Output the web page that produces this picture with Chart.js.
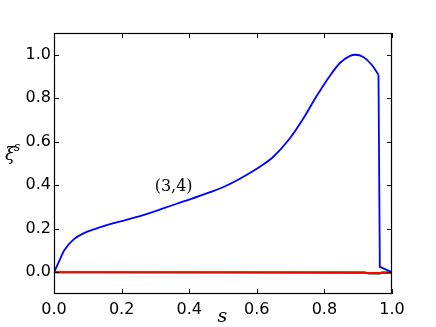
<!DOCTYPE html>
<html>
<head>
<meta charset="utf-8">
<script src="https://cdn.jsdelivr.net/npm/chart.js@4/dist/chart.umd.min.js"></script>
<style>
html,body{margin:0;padding:0;background:#fff;}
canvas{display:block;}
</style>
</head>
<body>
<canvas id="c" width="436" height="327"></canvas>
<script>
// Data
const blueS  = [0, 0.015, 0.03, 0.059, 0.089, 0.118, 0.166, 0.197, 0.264, 0.296, 0.363, 0.402, 0.462, 0.503, 0.550, 0.609, 0.649, 0.698, 0.738, 0.777, 0.817, 0.846, 0.876, 0.891, 0.915, 0.940, 0.960];
const blueXi = [0, 0.05, 0.10, 0.152, 0.18, 0.197, 0.221, 0.234, 0.263, 0.279, 0.315, 0.335, 0.368, 0.393, 0.43, 0.485, 0.531, 0.616, 0.708, 0.81, 0.905, 0.962, 0.995, 1.0, 0.99, 0.954, 0.908];
const blueDropS  = [0.960, 0.964, 1.0];
const blueDropXi = [0.908, 0.025, 0.0];
const greenS  = [0, 0.92, 0.93, 0.963, 0.97, 1.0];
const greenXi = [0, 0, -0.006, -0.007, 0, 0];
const redS  = [0, 0.5, 1.0];
const redXi = [0, -0.001, -0.003];
const xTicks = [0, 0.2, 0.4, 0.6, 0.8, 1.0];
const yTicks = [0, 0.2, 0.4, 0.6, 0.8, 1.0];
const annotationText = "(3,4)";
const xLabel = "s";
const yLabelMain = "ξ";
const yLabelSup = "s";

const toPts = (xs, ys) => xs.map((x, i) => ({x: x, y: ys[i]}));

const framePlugin = {
  id: 'frame',
  afterDatasetsDraw(chart) {
    const {ctx, chartArea: a, scales} = chart;
    ctx.save();
    ctx.fillStyle = '#000';
    ctx.font = '16px "DejaVu Serif", serif';
    ctx.textAlign = 'center';
    ctx.textBaseline = 'middle';
    ctx.fillText(annotationText, scales.x.getPixelForValue(0.354), scales.y.getPixelForValue(0.394));
    ctx.strokeStyle = '#000';
    ctx.lineWidth = 1.2;
    ctx.strokeRect(a.left + 0.5, a.top + 0.5, a.right - a.left - 1, a.bottom - a.top - 1);
    const L = 5;
    ctx.lineWidth = 1;
    ctx.beginPath();
    xTicks.forEach(v => {
      const px = Math.round(scales.x.getPixelForValue(v)) + 0.5;
      ctx.moveTo(px, a.bottom); ctx.lineTo(px, a.bottom - L);
      ctx.moveTo(px, a.top); ctx.lineTo(px, a.top + L);
    });
    yTicks.forEach(v => {
      const py = Math.round(scales.y.getPixelForValue(v)) + 0.5;
      ctx.moveTo(a.left, py); ctx.lineTo(a.left + L, py);
      ctx.moveTo(a.right, py); ctx.lineTo(a.right - L, py);
    });
    ctx.stroke();
    ctx.font = 'italic 19px "DejaVu Serif", serif';
    ctx.textAlign = 'center';
    ctx.textBaseline = 'alphabetic';
    ctx.fillText(xLabel, (a.left + a.right) / 2 - 0.5, 322);
    ctx.font = 'italic 18px "DejaVu Serif", serif';
    ctx.textAlign = 'left';
    ctx.fillText(yLabelMain, 5, 160);
    ctx.font = 'italic 12px "DejaVu Serif", serif';
    ctx.fillText(yLabelSup, 14, 151);
    ctx.restore();
  }
};

new Chart(document.getElementById('c'), {
  type: 'line',
  data: {
    datasets: [
      {data: toPts(blueS, blueXi), order: 1, borderColor: '#0000ff', borderWidth: 1.8, pointRadius: 0, cubicInterpolationMode: 'monotone', fill: false},
      {data: toPts(blueDropS, blueDropXi), order: 1, borderColor: '#0000ff', borderWidth: 1.8, pointRadius: 0, tension: 0, fill: false},
      {data: toPts(greenS, greenXi), order: 2, borderColor: '#008000', borderWidth: 1.8, pointRadius: 0, tension: 0, fill: false},
      {data: toPts(redS, redXi), order: 0, borderColor: '#ff0000', borderWidth: 2, pointRadius: 0, tension: 0, fill: false}
    ]
  },
  options: {
    responsive: false,
    animation: false,
    devicePixelRatio: 1,
    layout: {padding: {left: 0, top: 33, right: 44, bottom: 0}},
    plugins: {legend: {display: false}, tooltip: {enabled: false}},
    scales: {
      x: {
        type: 'linear', min: 0, max: 1,
        afterBuildTicks: s => { s.ticks = xTicks.map(v => ({value: v})); },
        afterFit: s => { s.height = 33; },
        grid: {display: false, drawTicks: false},
        border: {display: false},
        ticks: {color: '#000', font: {family: '"DejaVu Sans"', size: 16}, padding: 6, maxRotation: 0, callback: v => Number(v).toFixed(1)}
      },
      y: {
        type: 'linear', min: -0.1, max: 1.1,
        afterBuildTicks: s => { s.ticks = yTicks.map(v => ({value: v})); },
        afterFit: s => { s.width = 54; },
        grid: {display: false, drawTicks: false},
        border: {display: false},
        ticks: {color: '#000', font: {family: '"DejaVu Sans"', size: 16}, padding: 3, callback: v => Number(v).toFixed(1)}
      }
    }
  },
  plugins: [framePlugin]
});
</script>
</body>
</html>
